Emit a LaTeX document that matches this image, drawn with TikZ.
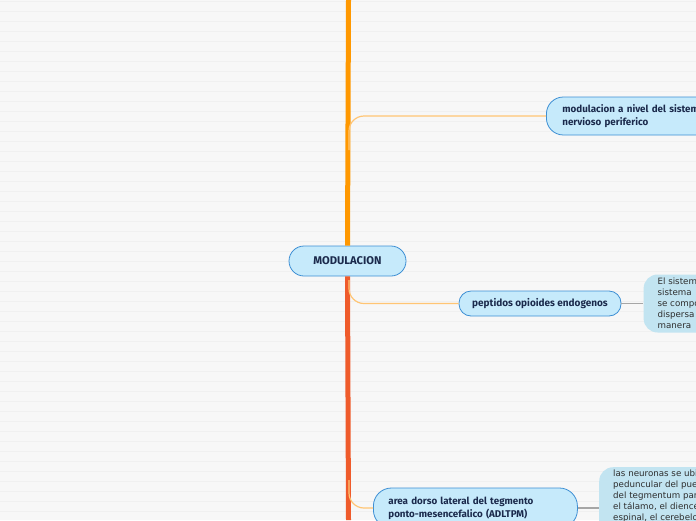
\documentclass[tikz,border=0pt]{standalone}
\usepackage{fontspec}
\usepackage{tikz}
\usepackage{xcolor}
\usetikzlibrary{positioning}
\newfontfamily\mapfont{Fira Sans}
\newfontfamily\notefont{DejaVu Sans}
\definecolor{trunkorange}{HTML}{FF9800}
\definecolor{trunkred}{HTML}{EF5B2B}
\definecolor{branchline}{HTML}{FFC574}
\definecolor{topicfill}{HTML}{C6EAFB}
\definecolor{topicdraw}{HTML}{3D8FD4}
\definecolor{topictext}{HTML}{1B2A4C}
\definecolor{notefill}{HTML}{C2E4F1}
\definecolor{notetext}{HTML}{2E2E2E}
\definecolor{paper}{HTML}{F7F7F7}
\definecolor{paperline}{HTML}{F0F0F0}

\begin{document}
\begin{tikzpicture}[
  x=1pt, y=-1pt,
  topic/.style={draw=topicdraw, line width=0.8pt, fill=topicfill, text=topictext, font=\mapfont\bfseries\fontsize{9.8}{13.5}\selectfont, align=left},
  central/.style={topic, rounded corners=15pt, minimum width=117pt, minimum height=30pt, align=center, font=\mapfont\bfseries\fontsize{11.2}{13}\selectfont},
  note/.style={fill=notefill, rounded corners=14pt, text=notetext, align=left, inner xsep=14pt, inner ysep=3pt, font=\notefont\fontsize{8.7}{11}\selectfont},
  branch/.style={draw=branchline, line width=1.2pt, rounded corners=15pt},
  link/.style={draw=gray!70, line width=1.2pt},
  gridline/.style={draw=paperline, line width=0.5pt}
]
\useasboundingbox (0,0) rectangle (696,520);
\clip (0,0) rectangle (696,520);
\fill[paper] (0,0) rectangle (696,520);
\foreach \y in {1,11,...,511}
  \draw[gridline] (0,\y) -- (696,\y);

% trunk
\coordinate (top) at (348.5,0);
\coordinate (bottom) at (348.5,520);
\coordinate (b1) at (349,150);
\coordinate (b2) at (349,280);
\coordinate (b3) at (349,480);

\node[central] (main) at (347.5,261) {MODULACION};
\draw[trunkorange, line width=5pt] (top) -- (main.north);
\draw[trunkred, line width=5pt] (main.south) -- (bottom);

% topics
\node[topic, rounded corners=17pt, anchor=west, minimum height=38pt, inner xsep=16pt, text width=160pt] (nervioso) at (546,116) {modulacion a nivel del sistema\\nervioso periferico};
\node[topic, rounded corners=12pt, minimum width=162pt, minimum height=25pt, align=center, font=\mapfont\bfseries\fontsize{10}{12}\selectfont] (peptidos) at (540,303.5) {peptidos opioides endogenos};
\node[topic, rounded corners=18pt, anchor=west, minimum height=40pt, inner xsep=15pt, text width=174pt, font=\mapfont\bfseries\fontsize{9.8}{13}\selectfont] (adltpm) at (373,508) {area dorso lateral del tegmento\\ponto-mesencefalico (ADLTPM)};

% notes
\node[note, right=22pt of peptidos, minimum height=58pt] (opioidenote) {El sistema\\sistema\\se compone\\dispersa\\manera};
\node[note, anchor=north west] (adltpmnote) at (599,467) {las neuronas se ubican\\peduncular del puente\\del tegmentum parte\\el tálamo, el diencéfalo\\espinal, el cerebelo\\y otras\\zonas};

% connectors
\draw[branch] (b1) |- (nervioso.west);
\draw[branch] (b2) |- (peptidos.west);
\draw[branch] (b3) |- (adltpm.west);
\draw[link] (peptidos.east) -- (opioidenote.west);
\draw[link] (adltpm.east) -- (adltpm.east -| adltpmnote.west);
\end{tikzpicture}
\end{document}
